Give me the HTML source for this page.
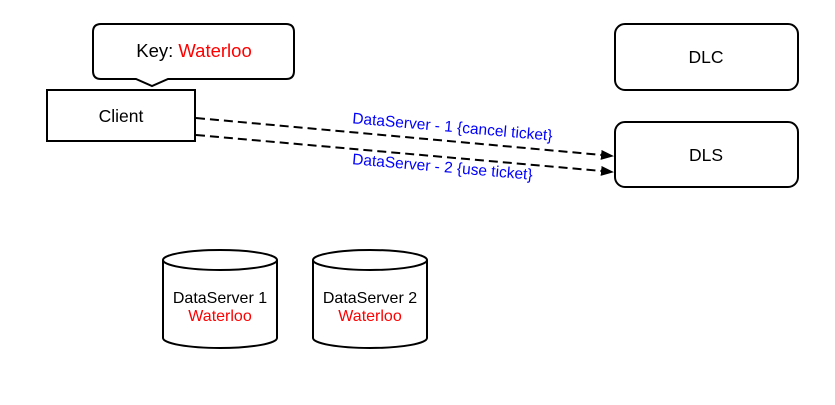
<!DOCTYPE html>
<html><head><style>body{margin:0;background:#fff}svg{display:block}</style></head><body>
<svg width="835" height="405" viewBox="0 0 835 405" xmlns="http://www.w3.org/2000/svg" font-family="Liberation Sans, Arial, sans-serif">
<defs><marker id="a" markerWidth="13" markerHeight="10" refX="12" refY="5" orient="auto" markerUnits="userSpaceOnUse"><path d="M0,0 L13,5 L0,10 z" fill="#000"/></marker></defs>
<path d="M101,24 H286 Q294,24 294,32 V71 Q294,79 286,79 H168 L152,86 L136,79 H101 Q93,79 93,71 V32 Q93,24 101,24 Z" fill="#fff" stroke="#000" stroke-width="2"/>
<text x="194" y="57" font-size="18.5" text-anchor="middle"><tspan fill="#000">Key: </tspan><tspan fill="#f00">Waterloo</tspan></text>
<rect x="47" y="90" width="148" height="51" fill="#fff" stroke="#000" stroke-width="2"/>
<text x="121" y="122" font-size="17.5" text-anchor="middle">Client</text>
<rect x="615" y="24" width="183" height="66" rx="10" fill="#fff" stroke="#000" stroke-width="2"/>
<text x="706" y="63" font-size="17.5" text-anchor="middle">DLC</text>
<rect x="615" y="122" width="183" height="65" rx="10" fill="#fff" stroke="#000" stroke-width="2"/>
<text x="706" y="161" font-size="17.5" text-anchor="middle">DLS</text>
<line x1="196" y1="118" x2="613" y2="156" stroke="#000" stroke-width="2" stroke-dasharray="9,5" marker-end="url(#a)"/>
<line x1="196" y1="135" x2="613" y2="172" stroke="#000" stroke-width="2" stroke-dasharray="9,5" marker-end="url(#a)"/>
<text x="452" y="132" font-size="15.5" fill="#00f" text-anchor="middle" transform="rotate(5 452 132)">DataServer - 1 {cancel ticket}</text>
<text x="442" y="172" font-size="15.5" fill="#00f" text-anchor="middle" transform="rotate(5 442 172)">DataServer - 2 {use ticket}</text>
<g fill="#fff" stroke="#000" stroke-width="2">
<path d="M163,260 V338 A57,10 0 0 0 277,338 V260"/>
<ellipse cx="220" cy="260" rx="57" ry="10"/>
<path d="M313,260 V338 A57,10 0 0 0 427,338 V260"/>
<ellipse cx="370" cy="260" rx="57" ry="10"/>
</g>
<text x="220" y="303" font-size="16" text-anchor="middle">DataServer 1</text>
<text x="220" y="321" font-size="16" fill="#f00" text-anchor="middle">Waterloo</text>
<text x="370" y="303" font-size="16" text-anchor="middle">DataServer 2</text>
<text x="370" y="321" font-size="16" fill="#f00" text-anchor="middle">Waterloo</text>
</svg>
</body></html>
